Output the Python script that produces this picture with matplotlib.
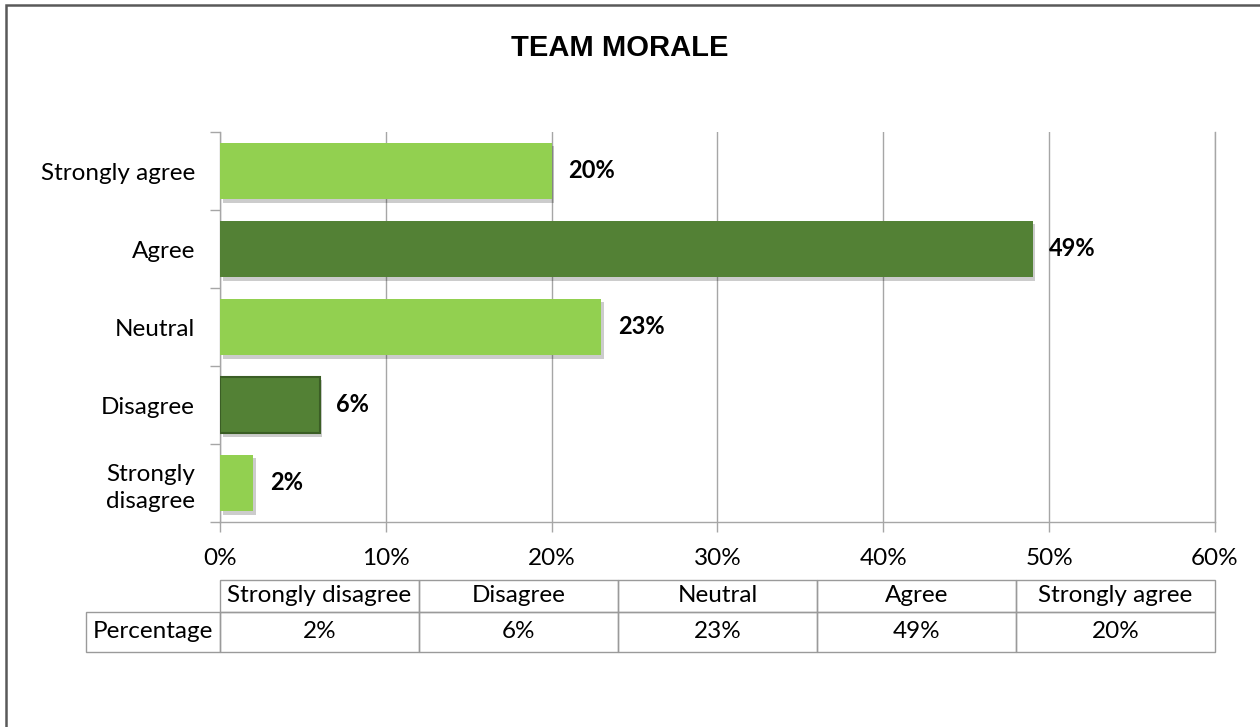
import matplotlib.pyplot as plt
import matplotlib.patheffects as pe
from matplotlib.patches import Rectangle
from matplotlib.ticker import FixedLocator, PercentFormatter

# Survey answers, bottom bar first
categories = ['Strongly\ndisagree', 'Disagree', 'Neutral', 'Agree', 'Strongly agree']
table_headers = ['Strongly disagree', 'Disagree', 'Neutral', 'Agree', 'Strongly agree']
percentages = [2, 6, 23, 49, 20]
x_ticks = [0, 10, 20, 30, 40, 50, 60]

light_green = '#92d050'
dark_green = '#538135'
bar_colors = [light_green, dark_green, light_green, dark_green, light_green]
grid_gray = '#a6a6a6'
font_size = 17.5

plt.rcParams['font.family'] = ['Lato', 'DejaVu Sans']

fig = plt.figure(figsize=(12.6, 7.27), dpi=100)
ax = fig.add_axes([220 / 1260, 1 - 522 / 727, 995 / 1260, 390 / 727])

ypos = list(range(len(categories)))
bars = ax.barh(ypos, percentages, height=0.73, color=bar_colors, zorder=3)
shadow = [pe.SimplePatchShadow(offset=(2, -2.5), shadow_rgbFace='black', alpha=0.2), pe.Normal()]
for i, bar in enumerate(bars):
    bar.set_path_effects(shadow)
    if categories[i] == 'Disagree':
        bar.set_edgecolor('#3b5e25')
        bar.set_linewidth(1.5)

# value labels beside each bar
for y, v in zip(ypos, percentages):
    ax.annotate(f'{v}%', xy=(v, y), xytext=(12, 0), textcoords='offset points',
                ha='left', va='center', fontsize=17, fontweight='bold', color='black')

ax.set_xlim(0, 60)
ax.set_ylim(-0.5, len(categories) - 0.5)
ax.xaxis.set_major_locator(FixedLocator(x_ticks))
ax.xaxis.set_major_formatter(PercentFormatter(decimals=0))
ax.grid(axis='x', color=grid_gray, linewidth=1, zorder=0)

# category boundaries as ticks, names centred between them
ax.yaxis.set_major_locator(FixedLocator([i - 0.5 for i in range(len(categories) + 1)]))
ax.yaxis.set_major_formatter(plt.NullFormatter())
ax.yaxis.set_minor_locator(FixedLocator(ypos))
ax.set_yticklabels(categories, minor=True)
for lbl in ax.get_yticklabels(minor=True):
    lbl.set_linespacing(1.35)
ax.tick_params(axis='y', which='major', length=7, color=grid_gray, width=1)
ax.tick_params(axis='y', which='minor', length=0, pad=18, labelsize=font_size)
ax.tick_params(axis='x', length=7, color=grid_gray, width=1, pad=12, labelsize=font_size)

ax.spines['top'].set_visible(False)
for side in ['left', 'bottom', 'right']:
    ax.spines[side].set_color(grid_gray)
    ax.spines[side].set_linewidth(1)

# data table under the axis, laid out in axes fractions
ax_h = 390.0
col_w = 1.0 / len(table_headers)
label_w = 134 / 995
head_top, head_bot = -58 / ax_h, -90 / ax_h
row_bot = -130 / ax_h
cell_kw = dict(transform=ax.transAxes, fill=False, edgecolor='#9a9a9a', linewidth=1, clip_on=False)
text_kw = dict(transform=ax.transAxes, ha='center', va='center', fontsize=font_size, clip_on=False)

ax.add_patch(Rectangle((-label_w, row_bot), label_w, head_bot - row_bot, **cell_kw))
ax.text(-label_w / 2, (head_bot + row_bot) / 2, 'Percentage', **text_kw)
for i, (name, v) in enumerate(zip(table_headers, percentages)):
    x0 = i * col_w
    ax.add_patch(Rectangle((x0, head_bot), col_w, head_top - head_bot, **cell_kw))
    ax.add_patch(Rectangle((x0, row_bot), col_w, head_bot - row_bot, **cell_kw))
    ax.text(x0 + col_w / 2, (head_top + head_bot) / 2, name, **text_kw)
    ax.text(x0 + col_w / 2, (head_bot + row_bot) / 2, f'{v}%', **text_kw)

fig.text(620 / 1260, 1 - 48 / 727, 'TEAM MORALE', ha='center', va='center',
         fontsize=21, fontweight='bold', family='Liberation Sans')

# outer chart frame, only the top and left edges fall inside the image
fig.patches.append(Rectangle((6 / 1260, -0.2), 1.5, 1.2 - 5 / 727, transform=fig.transFigure,
                             fill=False, edgecolor='#595959', linewidth=1.8))

fig.savefig('out.png', dpi=100)
